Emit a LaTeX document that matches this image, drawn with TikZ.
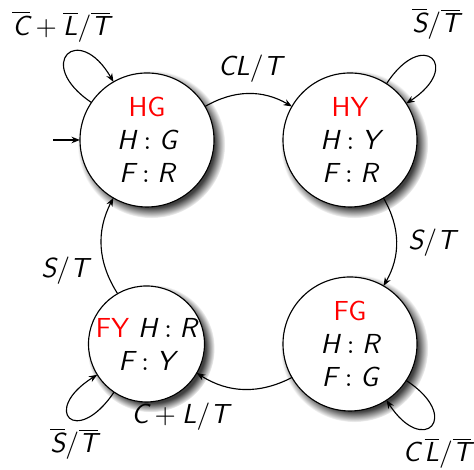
\documentclass[tikz,border=0pt]{standalone}
\usetikzlibrary{arrows.meta,shadows}
\newcommand\mv[1]{\hbox{\sffamily\itshape #1}}
\newcommand\ov[1]{\overline{\mv{#1}}}
\begin{document}
\begin{tikzpicture}[x=0.4pt,y=0.4pt,
  >={Stealth[length=3.4pt,width=2.6pt]},
  every node/.style={font=\fontsize{11}{13.2}\selectfont\sffamily},
  state/.style={circle,draw,line width=0.45pt,fill=white,inner sep=0pt,outer sep=0pt,
    align=center,circular drop shadow={shadow xshift=1.6pt,shadow yshift=-1.6pt,fill=black!75}},
  big/.style={state,minimum size=53.6pt},
  small/.style={state,minimum size=46.4pt},
  lbl/.style={inner sep=0pt},
  conn/.style={->,line width=0.45pt}]
\useasboundingbox (0,0) rectangle (474,470);
\node[big] (hg) at (147,330) {\textcolor{red}{HG}\\$\mv{H}:\mv{G}$\\$\mv{F}:\mv{R}$};
\node[big] (hy) at (350,330) {\textcolor{red}{HY}\\$\mv{H}:\mv{Y}$\\$\mv{F}:\mv{R}$};
\node[big] (fg) at (350,126) {\textcolor{red}{FG}\\$\mv{H}:\mv{R}$\\$\mv{F}:\mv{G}$};
\node[small] (fy) at (146.5,126) {\textcolor{red}{FY} $\mv{H}:\mv{R}$\\$\mv{F}:\mv{Y}$};
\coordinate (init) at (53,330);
\draw[conn] (init) -- (hg.west);
\draw[conn] (hg) to[bend left=30] (hy);
\draw[conn] (hy) to[bend left=30] (fg);
\draw[conn] (fg) to[bend left=30] (fy);
\draw[conn] (fy) to[bend left=30] (hg);
\draw[conn] (hg) to[out=146,in=120,min distance=28pt] (hg);
\draw[conn] (hy) to[out=57,in=33,min distance=27pt] (hy);
\draw[conn] (fg) to[out=-33,in=-57,min distance=27pt] (fg);
\draw[conn] (fy) to[out=236,in=212,min distance=27pt] (fy);
\node[lbl] (l1) at (250,401) {$\mv{C}\mv{L}/\mv{T}$};
\node[lbl] (l2) at (432,227) {$\mv{S}/\mv{T}$};
\node[lbl] (l3) at (180,53) {$\mv{C}+\mv{L}/\mv{T}$};
\node[lbl] (l4) at (65,199) {$\mv{S}/\mv{T}$};
\node[lbl] (l5) at (61,443) {$\ov{C}+\ov{L}/\ov{T}$};
\node[lbl] (l6) at (436,446) {$\ov{S}/\ov{T}$};
\node[lbl] (l7) at (437,17) {$\mv{C}\,\ov{L}/\ov{T}$};
\node[lbl] (l8) at (74,26) {$\ov{S}/\ov{T}$};
\end{tikzpicture}
\end{document}
